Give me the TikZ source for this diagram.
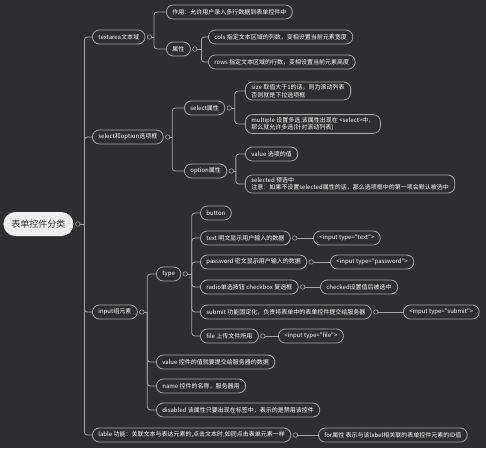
\documentclass[tikz,border=0pt]{standalone}
\usepackage{fontspec}
\newfontfamily\cjk{Noto Sans CJK SC}
\usetikzlibrary{positioning}
\definecolor{bgc}{HTML}{2E2E30}
\definecolor{linec}{HTML}{A6A6A6}
\definecolor{rootc}{HTML}{EFEFEF}

\begin{document}
\begin{tikzpicture}[
  x=1pt, y=-1pt,
  topic/.style={draw=linec, line width=0.8pt, fill=bgc, rounded corners=7pt,
    text=white, font=\cjk\fontsize{6}{7.5}\selectfont, align=left,
    inner xsep=6pt, inner ysep=2.5pt, minimum height=14pt, anchor=west},
  root/.style={topic, draw=none, fill=rootc, text=black!80,
    font=\cjk\fontsize{9}{11}\selectfont, rounded corners=12pt,
    inner xsep=8pt, minimum height=24pt},
  knob/.style={circle, draw=linec, line width=0.6pt, fill=bgc,
    inner sep=0pt, minimum size=4.5pt},
  link/.style={draw=linec, line width=0.8pt, rounded corners=3pt}
]
\fill[bgc] (0,0) rectangle (486,448);
\useasboundingbox (0,0) rectangle (486,448);

% root and first level
\node[root] (root) at (3,224) {表单控件分类};
\node[topic] (ta) at (92,37) {textarea文本域};
\node[topic] (so) at (92,137) {select和option选项框};
\node[topic] (inp) at (92,312) {input组元素};
\node[topic] (lab) at (92,435) {lable 功能：关联文本与表达元素的,点击文本时,如同点击表单元素一样};

% textarea
\node[topic] (taUse) at (166,12) {作用：允许用户录入多行数据到表单控件中};
\node[topic] (taAttr) at (166,49) {属性};
\node[topic] (cols) at (208,37) {cols 指定文本区域的列数，变相设置当前元素宽度};
\node[topic] (rows) at (208,62) {rows  指定文本区域的行数，变相设置当前元素高度};

% select / option
\node[topic] (selAttr) at (184,108) {select属性};
\node[topic] (size) at (245,91) {size 取值大于1的话，则为滚动列表\\否则就是下拉选项框};
\node[topic] (multi) at (245,124) {multiple 设置多选,该属性出现在 <select>中，\\那么就允许多选(针对滚动列表)};
\node[topic] (optAttr) at (184,171) {option属性};
\node[topic] (optVal) at (245,154) {value 选项的值};
\node[topic] (optSel) at (245,184) {selected 预选中\\注意：如果不设置selected属性的话，那么选项框中的第一项会默认被选中};

% input
\node[topic] (type) at (156,274) {type};
\node[topic] (btn) at (200,213) {button};
\node[topic] (txt) at (200,238) {text 明文显示用户输入的数据};
\node[topic] (pwd) at (200,262) {password 密文显示用户输入的数据};
\node[topic] (radio) at (200,287) {radio单选按钮 checkbox 复选框};
\node[topic] (sub) at (200,312) {submit 功能固定化，负责将表单中的表单控件提交给服务器};
\node[topic] (file) at (200,336) {file 上传文件所用};
\node[topic] (txtEx) at (313,238) {<input type="text">};
\node[topic] (pwdEx) at (330,262) {<input type="password">};
\node[topic] (chk) at (320,287) {checked设置值后被选中};
\node[topic] (subEx) at (403,312) {<input type="submit">};
\node[topic] (fileEx) at (278,336) {<input type="file">};
\node[topic] (inVal) at (156,362) {value 控件的值就要提交给服务器的数据};
\node[topic] (inName) at (156,386) {name 控件的名称，服务器用};
\node[topic] (inDis) at (156,410) {disabled 该属性只要出现在标签中，表示的是禁用该控件};

% label
\node[topic] (forAttr) at (318,435) {for属性 表示与该label相关联的表单控件元素的ID值};

% knobs
\foreach \p in {root,ta,taAttr,so,selAttr,optAttr,inp,type,txt,pwd,radio,sub,file,lab}
  \node[knob, right=1.5pt of \p] (\p K) {};

% forks
\foreach \p/\s in {root/4,ta/2,taAttr/4,so/2,selAttr/3,optAttr/2,inp/3,type/4}{
  \coordinate (\p F) at ([xshift=\s pt]\p K.east);
  \draw[link] (\p K) -- (\p F);
}
\foreach \c in {ta,so,inp,lab} \draw[link] (rootF) |- (\c.west);
\foreach \c in {taUse,taAttr} \draw[link] (taF) |- (\c.west);
\foreach \c in {cols,rows} \draw[link] (taAttrF) |- (\c.west);
\foreach \c in {selAttr,optAttr} \draw[link] (soF) |- (\c.west);
\foreach \c in {size,multi} \draw[link] (selAttrF) |- (\c.west);
\foreach \c in {optVal,optSel} \draw[link] (optAttrF) |- (\c.west);
\foreach \c in {type,inVal,inName,inDis} \draw[link] (inpF) |- (\c.west);
\foreach \c in {btn,txt,pwd,radio,sub,file} \draw[link] (typeF) |- (\c.west);

% single children
\foreach \p/\c in {txt/txtEx,pwd/pwdEx,radio/chk,sub/subEx,file/fileEx,lab/forAttr}
  \draw[link] (\p K) -- (\c.west);
\end{tikzpicture}
\end{document}
